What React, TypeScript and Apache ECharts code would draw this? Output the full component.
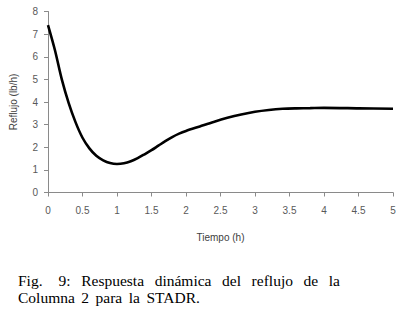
import React, { useEffect, useRef } from "react";
import * as echarts from "echarts";

const timeH = [0, 0.1, 0.2, 0.3, 0.4, 0.5, 0.6, 0.7, 0.8, 0.9, 1.0, 1.1, 1.2, 1.3, 1.4, 1.5, 1.6, 1.7, 1.8, 1.9, 2.0, 2.2, 2.4, 2.6, 2.8, 3.0, 3.2, 3.4, 3.6, 3.8, 4.0, 4.5, 5.0];
const reflujo = [7.4, 6.3, 5.0, 3.95, 3.1, 2.42, 1.95, 1.62, 1.42, 1.3, 1.26, 1.29, 1.38, 1.52, 1.69, 1.87, 2.07, 2.27, 2.45, 2.6, 2.72, 2.92, 3.12, 3.3, 3.45, 3.57, 3.65, 3.7, 3.72, 3.73, 3.74, 3.72, 3.7];

const xAxisName = "Tiempo (h)";
const yAxisName = "Reflujo (lb/h)";
const captionLine1 = ["Fig.", "9:", "Respuesta", "dinámica", "del", "reflujo", "de", "la"];
const captionLine2 = ["Columna", "2", "para", "la", "STADR."];

const captionFont = "Liberation Serif";
const captionSize = 15.5;

function measure(text: string): number {
  const c = document.createElement("canvas").getContext("2d");
  if (!c) return text.length * captionSize * 0.5;
  c.font = `${captionSize}px "${captionFont}"`;
  return c.measureText(text).width;
}

function wordEl(text: string, x: number, y: number) {
  return {
    type: "text",
    x,
    y,
    style: {
      text,
      fontFamily: captionFont,
      fontSize: captionSize,
      fill: "#000",
      verticalAlign: "middle",
      align: "left",
    },
  };
}

export default function App() {
  const ref = useRef<HTMLDivElement>(null);
  useEffect(() => {
    if (!ref.current) return;
    const chart = echarts.init(ref.current, undefined, { renderer: "svg" });

    const left = 18;
    const right = 340;
    const widths = captionLine1.map(measure);
    const total = widths.reduce((a, b) => a + b, 0);
    const weights = captionLine1.slice(0, -1).map((_, i) => (i === 0 ? 1.5 : 1));
    const wsum = weights.reduce((a, b) => a + b, 0);
    const unit = (right - left - total) / wsum;
    let x = left;
    const words: any[] = [];
    captionLine1.forEach((w, i) => {
      words.push(wordEl(w, x, 280));
      x += widths[i] + (i < weights.length ? weights[i] * unit : 0);
    });
    x = left;
    const gap2 = 6.5;
    captionLine2.forEach((w) => {
      words.push(wordEl(w, x, 297));
      x += measure(w) + gap2;
    });

    const axisCommon = {
      axisLine: { show: true, lineStyle: { color: "#8a8a8a", width: 1 } },
      axisTick: { show: true, inside: false, length: 4, lineStyle: { color: "#8a8a8a" } },
      splitLine: { show: false },
      nameTextStyle: { color: "#404040", fontFamily: "Liberation Sans", fontSize: 10 },
    };

    chart.setOption({
      animation: false,
      backgroundColor: "#fff",
      grid: { left: 44, right: 9, top: 11.5, bottom: 118.5, containLabel: false },
      xAxis: {
        type: "value",
        min: 0,
        max: 5,
        interval: 0.5,
        name: xAxisName,
        nameLocation: "middle",
        nameGap: 40,
        ...axisCommon,
        axisLabel: { color: "#595959", fontFamily: "Liberation Sans", fontSize: 10, margin: 13 },
      },
      yAxis: {
        type: "value",
        min: 0,
        max: 8,
        interval: 1,
        name: yAxisName,
        nameLocation: "middle",
        nameGap: 30,
        nameRotate: 90,
        ...axisCommon,
        axisLabel: { color: "#595959", fontFamily: "Liberation Sans", fontSize: 10, margin: 10 },
      },
      series: [
        {
          type: "line",
          data: timeH.map((t, i) => [t, reflujo[i]]),
          smooth: 0.3,
          showSymbol: false,
          lineStyle: { color: "#000", width: 2.6 },
        },
      ],
      graphic: words,
    });
    return () => chart.dispose();
  }, []);
  return (
    <div
      ref={ref}
      style={{ position: "fixed", left: 0, top: 0, width: 402, height: 311 }}
    />
  );
}
